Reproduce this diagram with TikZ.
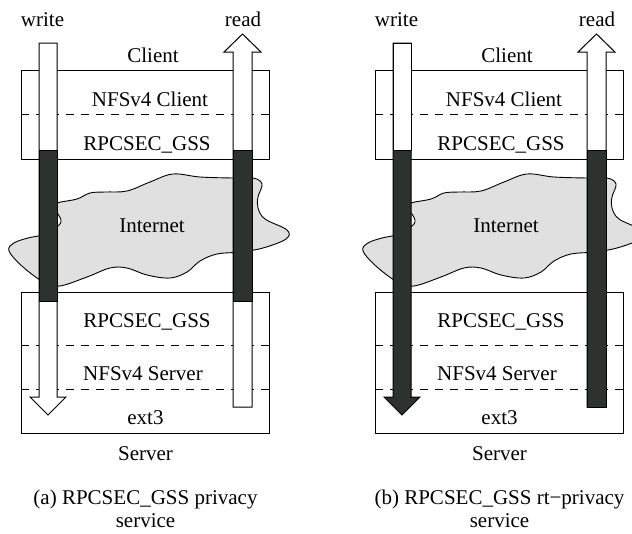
\documentclass[tikz,border=0pt]{standalone}
\usepackage{fontspec}
\setmainfont{Liberation Serif}
\definecolor{bardark}{HTML}{2E322E}
\definecolor{cloudgrey}{HTML}{E0E0E0}
\tikzset{
  x=1pt, y=-1pt,
  every node/.style={font=\fontsize{21}{25}\selectfont, inner sep=0pt},
  lbl/.style={anchor=base},
  layerbox/.style={draw, line width=1pt},
  layersep/.style={draw, line width=0.9pt, dash pattern=on 8pt off 7pt},
  cloudshape/.style={draw, fill=cloudgrey, line width=0.9pt},
  barwhite/.style={draw, fill=white, line width=1pt},
  bardarkfill/.style={draw, fill=bardark, line width=1pt},
}
% one panel: client/server stacks, the Internet cloud and their labels
\newcommand{\panelframe}[1]{%
  % client stack
  \draw[layerbox] (21,70) rectangle (269,159);
  \draw[layersep] (21,114) -- (269,114);
  % server stack
  \draw[layerbox] (21,292) rectangle (269,433);
  \draw[layersep] (21,345) -- (269,345);
  \draw[layersep] (21,389) -- (269,389);
  % Internet cloud
  \draw[cloudshape] plot[smooth cycle, tension=0.6] coordinates {
    (57,203) (77,199) (90,193) (105,192) (127,191) (150,182) (173,174)
    (200,177) (233,178) (253,178) (262,184) (258,197) (258,208)
    (265,219) (287,230) (286,239) (263,248) (240,252) (217,254)
    (200,261) (187,272) (170,278) (147,275) (127,268) (110,268)
    (87,277) (60,286) (45,283) (23,267) (9,251) (14,243) (28,238)
    (42,235) (54,229) (61,222) (58,214) (52,208)};
  % labels
  \node[lbl] (write#1) at (42.5,26) {write};
  \node[lbl] (read#1) at (243,26) {read};
  \node[lbl] (client#1) at (153,62) {Client};
  \node[lbl] (nfsc#1) at (150,106) {NFSv4 Client};
  \node[lbl] (rpcc#1) at (147,150) {RPCSEC\_GSS};
  \node[lbl] (inet#1) at (152,232) {Internet};
  \node[lbl] (rpcs#1) at (147,327) {RPCSEC\_GSS};
  \node[lbl] (nfss#1) at (143,380) {NFSv4 Server};
  \node[lbl] (ext#1) at (145.5,424) {ext3};
  \node[lbl] (server#1) at (145.5,460) {Server};
}
\begin{document}
\begin{tikzpicture}
\useasboundingbox (0,0) rectangle (632,533);
\clip (0,0) rectangle (632,533);

% ---------- (a) privacy service ----------
\panelframe{a}
% write path: white arrow down, encrypted on the wire
\draw[barwhite] (39,43) -- (57,43) -- (57,397) -- (66,397) -- (48,415)
  -- (30,397) -- (39,397) -- cycle;
\draw[bardarkfill] (39,150) rectangle (57,301);
% read path: white arrow up, encrypted on the wire
\draw[barwhite] (233,407) -- (252,407) -- (252,52) -- (261,52) -- (242.5,34)
  -- (224,52) -- (233,52) -- cycle;
\draw[bardarkfill] (233,150) rectangle (252,301);
\node[anchor=base] (capa) at (145.5,504) {(a) RPCSEC\_GSS privacy};
\node[anchor=base] (capa2) at (145.5,527) {service};

% ---------- (b) rt-privacy service ----------
\begin{scope}[xshift=354pt]
\panelframe{b}
% write path: encrypted down to the storage layer
\draw[bardarkfill] (39,43) -- (57,43) -- (57,397) -- (66,397) -- (48,415)
  -- (30,397) -- (39,397) -- cycle;
\draw[barwhite] (39,43) rectangle (57,150);
% read path: data stays encrypted until the client
\draw[barwhite] (233,407) -- (252,407) -- (252,52) -- (261,52) -- (242.5,34)
  -- (224,52) -- (233,52) -- cycle;
\draw[bardarkfill] (233,150) rectangle (252,407);
\node[anchor=base] (capb) at (145.5,504) {(b) RPCSEC\_GSS rt−privacy};
\node[anchor=base] (capb2) at (145.5,527) {service};
\end{scope}
\end{tikzpicture}
\end{document}
